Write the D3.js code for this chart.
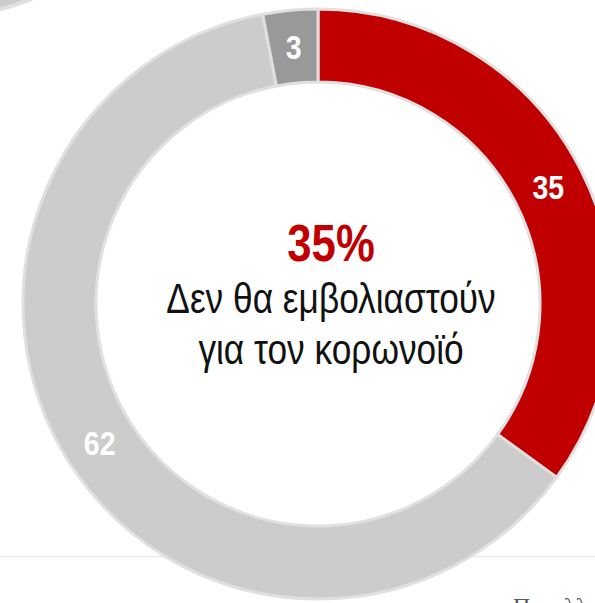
<!DOCTYPE html>
<html><head><meta charset="utf-8">
<script src="https://cdn.jsdelivr.net/npm/d3@7"></script>
<style>html,body{margin:0;padding:0;background:#fff;overflow:hidden}</style>
</head><body>
<svg id="c" width="595" height="603"></svg>
<script>
const categories = ["Δεν θα εμβολιαστούν", "Θα εμβολιαστούν", "ΔΓ/ΔΑ"];
const values = [35, 62, 3];
const labels = ["35", "62", "3"];
const colors = ["#c00000", "#cccccc", "#999999"];
const centerValue = "35%";
const centerLines = ["Δεν θα εμβολιαστούν", "για τον κορωνοϊό"];
const footerText = "Πανελλαδική έρευνα";

const svg = d3.select("#c");
const cx = 318, cy = 304, R = 295, r = 222;
const SX = 0.84;
const FONT = "Liberation Sans, Arial, sans-serif";

// fragment of previous panel's donut (top-left)
svg.append("circle").attr("cx", -78).attr("cy", -275).attr("r", R)
  .attr("fill", "#cccccc").attr("stroke", "#e0e0e0").attr("stroke-width", 4);

// divider line
svg.append("line").attr("x1", 0).attr("x2", 595).attr("y1", 556.5).attr("y2", 556.5)
  .attr("stroke", "#ebebeb").attr("stroke-width", 1.5);

const pie = d3.pie().sort(null).value(d => d);
const arc = d3.arc().innerRadius(r).outerRadius(R);
const labelArc = d3.arc().innerRadius((R + r) / 2).outerRadius((R + r) / 2);
const g = svg.append("g").attr("transform", `translate(${cx},${cy})`);
const arcs = pie(values);
g.selectAll("path.s").data(arcs).join("path").attr("class", "s")
  .attr("d", arc).attr("fill", (d, i) => colors[i])
  .attr("stroke", "#e0e0e0").attr("stroke-width", 3).attr("stroke-linejoin", "round");
g.selectAll("text.l").data(arcs).join("text").attr("class", "l")
  .attr("transform", d => `translate(${labelArc.centroid(d)}) scale(${SX},1)`)
  .attr("text-anchor", "middle").attr("dy", "0.36em")
  .attr("font-family", FONT).attr("font-weight", "bold")
  .attr("font-size", 34).attr("fill", "#fff")
  .text((d, i) => labels[i]);

const tc = 13; // centre text x offset
g.append("text").attr("transform", `translate(${tc},-43) scale(${SX},1)`).attr("text-anchor", "middle")
  .attr("font-family", FONT).attr("font-weight", "bold")
  .attr("font-size", 52).attr("fill", "#c00000").text(centerValue);
centerLines.forEach((t, i) => {
  g.append("text").attr("transform", `translate(${tc},${9 + i * 51}) scale(${SX},1)`).attr("text-anchor", "middle")
    .attr("font-family", FONT)
    .attr("font-size", 42).attr("fill", "#111").text(t);
});

svg.append("text").attr("x", 513).attr("y", 614)
  .attr("font-family", "Liberation Serif, Times New Roman, serif")
  .attr("font-size", 24).attr("fill", "#555").text(footerText);
</script>
</body></html>
